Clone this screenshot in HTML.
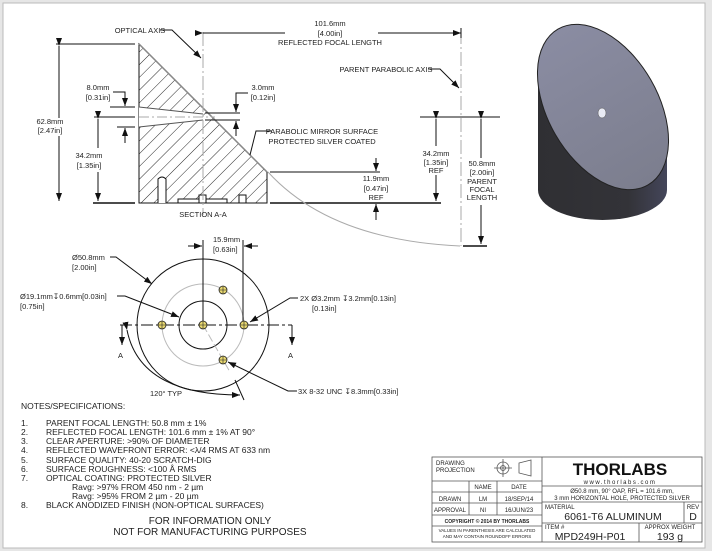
<!DOCTYPE html>
<html><head><meta charset="utf-8"><style>
html,body{margin:0;padding:0;background:#fff}
svg{display:block}
text{font-family:"Liberation Sans",sans-serif;fill:#222}
</style></head><body>
<svg width="712" height="551" viewBox="0 0 712 551" xmlns="http://www.w3.org/2000/svg">
<defs>
<pattern id="h" width="9" height="9" patternUnits="userSpaceOnUse" patternTransform="rotate(45)">
<line x1="0" y1="0" x2="0" y2="9" stroke="#111" stroke-width="0.9"/></pattern>
<marker id="a" markerWidth="8" markerHeight="6" refX="8" refY="3" orient="auto" markerUnits="userSpaceOnUse"><path d="M0,0L8,3L0,6z" fill="#111"/></marker>
<linearGradient id="body" x1="0" x2="1"><stop offset="0" stop-color="#2f2f33"/><stop offset="0.7" stop-color="#333338"/><stop offset="1" stop-color="#44465a"/></linearGradient>
<linearGradient id="face" x1="0" x2="1"><stop offset="0" stop-color="#8a8ca2"/><stop offset="1" stop-color="#7c7e8e"/></linearGradient>
</defs>
<rect x="0" y="0" width="712" height="551" fill="#e6e6e6"/>
<rect x="3" y="3" width="702" height="545" fill="#fff" stroke="#bbb"/>

<!-- Section A-A -->
<g stroke="#111" stroke-width="1" fill="none">
<path d="M139,44 L267,172 L267,203 L139,203 Z" fill="url(#h)"/>
<path d="M139,107 L203,114 L203,120 L139,127 Z" fill="#fff" stroke="none"/>
<path d="M139,107 L203,114 M139,127 L203,120" stroke="#555"/>
<path d="M139,44 L267,172" stroke="#888" stroke-width="1.5"/>
<path d="M158,203 V179 Q162,175 166,179 V203" fill="#fff"/>
<rect x="178" y="199" width="49" height="4" fill="#fff"/>
<rect x="199" y="195" width="7" height="8" fill="#fff"/>
<rect x="239" y="195" width="7" height="8" fill="#fff"/>
<line x1="93" y1="203" x2="135" y2="203" stroke-width="1.5"/>
<line x1="270" y1="203" x2="441" y2="203" stroke-width="1.5"/>
<line x1="270" y1="172" x2="380" y2="172"/>
<path d="M268,172 Q330,240 460,246" stroke="#aaa"/>
<line x1="203" y1="32" x2="203" y2="215" stroke="#aaa" stroke-dasharray="14,3,2,3"/>
<line x1="461" y1="30" x2="461" y2="246" stroke="#aaa" stroke-dasharray="14,3,2,3"/>
<line x1="139" y1="117" x2="215" y2="117" stroke="#aaa" stroke-dasharray="10,3,2,3"/>
<line x1="203" y1="33" x2="285" y2="33" marker-start="url(#a)"/>
<line x1="378" y1="33" x2="461" y2="33" marker-end="url(#a)"/>
<line x1="461" y1="28" x2="461" y2="38"/>
<path d="M160,30 H172 L201,58" marker-end="url(#a)"/>
<path d="M428,69 H440 L459,88" marker-end="url(#a)"/>
<line x1="56" y1="44" x2="135" y2="44"/>
<line x1="59" y1="46" x2="59" y2="118" marker-start="url(#a)"/>
<line x1="59" y1="136" x2="59" y2="201" marker-end="url(#a)"/>
<line x1="94" y1="117" x2="135" y2="117"/>
<line x1="98" y1="119" x2="98" y2="148" marker-start="url(#a)"/>
<line x1="98" y1="172" x2="98" y2="201" marker-end="url(#a)"/>
<path d="M113,92 H125 V106" marker-end="url(#a)"/>
<line x1="125" y1="143" x2="125" y2="128" marker-end="url(#a)"/>
<line x1="117" y1="127" x2="135" y2="127"/>
<line x1="110" y1="107" x2="135" y2="107"/>
<path d="M248,93 H236 V112" marker-end="url(#a)"/>
<line x1="236" y1="136" x2="236" y2="121" marker-end="url(#a)"/>
<line x1="205" y1="113" x2="240" y2="113"/>
<line x1="205" y1="120" x2="240" y2="120"/>
<path d="M250,155 L256,131 H272"/>
<line x1="376" y1="158" x2="376" y2="171" marker-end="url(#a)"/>
<line x1="376" y1="220" x2="376" y2="204" marker-end="url(#a)"/>
<line x1="420" y1="117" x2="500" y2="117"/>
<line x1="436" y1="119" x2="436" y2="146" marker-start="url(#a)"/>
<line x1="436" y1="175" x2="436" y2="201" marker-end="url(#a)"/>
<line x1="481" y1="119" x2="481" y2="158" marker-start="url(#a)"/>
<line x1="481" y1="205" x2="481" y2="244" marker-end="url(#a)"/>
<line x1="463" y1="246" x2="487" y2="246" stroke-width="1.5"/>
</g>
<g font-size="7.5" text-anchor="middle">
<text x="330" y="26">101.6mm</text><text x="330" y="36">[4.00in]</text><text x="330" y="45">REFLECTED FOCAL LENGTH</text>
<text x="140" y="33">OPTICAL AXIS</text>
<text x="386" y="72">PARENT PARABOLIC AXIS</text>
<text x="50" y="124">62.8mm</text><text x="50" y="133">[2.47in]</text>
<text x="89" y="158">34.2mm</text><text x="89" y="168">[1.35in]</text>
<text x="98" y="90">8.0mm</text><text x="98" y="100">[0.31in]</text>
<text x="263" y="90">3.0mm</text><text x="263" y="100">[0.12in]</text>
<text x="376" y="181">11.9mm</text><text x="376" y="191">[0.47in]</text><text x="376" y="200">REF</text>
<text x="436" y="156">34.2mm</text><text x="436" y="165">[1.35in]</text><text x="436" y="173">REF</text>
<text x="482" y="166">50.8mm</text><text x="482" y="175">[2.00in]</text><text x="482" y="184">PARENT</text><text x="482" y="192">FOCAL</text><text x="482" y="200">LENGTH</text>
<text x="203" y="217">SECTION A-A</text>
<text x="322" y="134" text-anchor="middle">PARABOLIC MIRROR SURFACE</text>
<text x="322" y="144" text-anchor="middle">PROTECTED SILVER COATED</text>
</g>

<!-- 3D view -->
<path d="M538,66 V190 A64.5,30 0 0 0 667,190 V148 Z" fill="url(#body)"/>
<ellipse cx="603" cy="107" rx="90" ry="55" transform="rotate(60 603 107)" fill="url(#face)" stroke="#222" stroke-width="1"/>
<ellipse cx="602" cy="113" rx="4" ry="5" fill="#e8eaf4" stroke="#555" stroke-width="0.5"/>

<!-- Bottom view -->
<g stroke="#111" fill="none" stroke-width="1">
<circle cx="203" cy="325" r="66"/>
<circle cx="203" cy="325" r="24"/>
<circle cx="203" cy="325" r="41" stroke="#bbb"/>
<line x1="120" y1="325" x2="292" y2="325" stroke-dasharray="12,3,3,3"/>
<line x1="203" y1="325" x2="230" y2="372" stroke="#bbb" stroke-dasharray="8,3"/>
<path d="M122,325 V345" marker-end="url(#a)"/><path d="M292,325 V345" marker-end="url(#a)"/>
<line x1="203" y1="240" x2="203" y2="325"/><line x1="243" y1="240" x2="243" y2="325"/>
<line x1="188" y1="246" x2="202" y2="246" marker-end="url(#a)"/>
<line x1="258" y1="246" x2="244" y2="246" marker-end="url(#a)"/>
<path d="M110,257 H116 L152,284" marker-end="url(#a)"/>
<path d="M117,296 H125 L179,317" marker-end="url(#a)"/>
<path d="M298,298 H290 L250,322" marker-end="url(#a)"/>
<path d="M297,391 H288 L228,362" marker-end="url(#a)"/>
<path d="M127,330 Q140,395 240,395" marker-start="url(#a)" marker-end="url(#a)"/>
<line x1="235" y1="380" x2="244" y2="400"/>
</g>
<g fill="#e8d870" stroke="#222" stroke-width="0.8">
<circle cx="162" cy="325" r="4"/><circle cx="203" cy="325" r="4"/><circle cx="244" cy="325" r="4"/>
<circle cx="223" cy="290" r="4"/><circle cx="223" cy="360" r="4"/>
</g>
<g stroke="#222" stroke-width="0.6">
<path d="M162,321v8M158,325h8M203,321v8M199,325h8M244,321v8M240,325h8M223,286v8M219,290h8M223,356v8M219,360h8"/></g>
<g font-size="7.5">
<text x="213" y="242">15.9mm</text><text x="213" y="252">[0.63in]</text>
<text x="72" y="260">Ø50.8mm</text><text x="72" y="270">[2.00in]</text>
<text x="20" y="299">Ø19.1mm↧0.6mm[0.03in]</text><text x="20" y="309">[0.75in]</text>
<text x="300" y="301">2X  Ø3.2mm ↧3.2mm[0.13in]</text><text x="312" y="311">[0.13in]</text>
<text x="298" y="394">3X 8-32 UNC ↧8.3mm[0.33in]</text>
<text x="150" y="396">120° TYP</text>
<text x="118" y="358">A</text><text x="288" y="358">A</text>
</g>

<!-- Notes -->
<g font-size="8.5">
<text x="21" y="409">NOTES/SPECIFICATIONS:</text>
<text x="21" y="426">1.</text><text x="46" y="426">PARENT FOCAL LENGTH: 50.8 mm ± 1%</text>
<text x="21" y="435">2.</text><text x="46" y="435">REFLECTED FOCAL LENGTH: 101.6 mm ± 1% AT 90°</text>
<text x="21" y="444">3.</text><text x="46" y="444">CLEAR APERTURE: &gt;90% OF DIAMETER</text>
<text x="21" y="453">4.</text><text x="46" y="453">REFLECTED WAVEFRONT ERROR: &lt;λ/4 RMS AT 633 nm</text>
<text x="21" y="463">5.</text><text x="46" y="463">SURFACE QUALITY: 40-20 SCRATCH-DIG</text>
<text x="21" y="472">6.</text><text x="46" y="472">SURFACE ROUGHNESS: &lt;100 Å RMS</text>
<text x="21" y="481">7.</text><text x="46" y="481">OPTICAL COATING: PROTECTED SILVER</text>
<text x="72" y="490">Ravg: &gt;97% FROM 450 nm - 2 µm</text>
<text x="72" y="499">Ravg: &gt;95% FROM 2 µm - 20 µm</text>
<text x="21" y="508">8.</text><text x="46" y="508">BLACK ANODIZED FINISH (NON-OPTICAL SURFACES)</text>
</g>
<g font-size="10" text-anchor="middle">
<text x="210" y="524">FOR INFORMATION ONLY</text>
<text x="210" y="535">NOT FOR MANUFACTURING PURPOSES</text>
</g>

<!-- Title block -->
<g stroke="#555" stroke-width="0.8" fill="none">
<rect x="432" y="457" width="270" height="85"/>
<line x1="542" y1="457" x2="542" y2="542"/>
<line x1="432" y1="481" x2="542" y2="481"/>
<line x1="432" y1="492" x2="542" y2="492"/>
<line x1="432" y1="503" x2="542" y2="503"/>
<line x1="432" y1="515" x2="542" y2="515"/>
<line x1="432" y1="526" x2="542" y2="526"/>
<line x1="469" y1="481" x2="469" y2="515"/>
<line x1="497" y1="481" x2="497" y2="515"/>
<line x1="542" y1="486" x2="702" y2="486"/>
<line x1="542" y1="502" x2="702" y2="502"/>
<line x1="542" y1="523" x2="702" y2="523"/>
<line x1="684" y1="502" x2="684" y2="523"/>
<line x1="639" y1="523" x2="639" y2="542"/>
<circle cx="503" cy="468" r="6"/><circle cx="503" cy="468" r="2.5"/>
<path d="M494,468h18M503,459v18"/>
<path d="M519,463 L531,460 V476 L519,473 Z"/>
</g>
<g font-size="6">
<text x="436" y="465">DRAWING</text><text x="436" y="472">PROJECTION</text>
<text x="483" y="489" text-anchor="middle">NAME</text><text x="519" y="489" text-anchor="middle">DATE</text>
<text x="450" y="501" text-anchor="middle">DRAWN</text><text x="483" y="501" text-anchor="middle">LM</text><text x="519" y="501" text-anchor="middle">18/SEP/14</text>
<text x="450" y="512" text-anchor="middle">APPROVAL</text><text x="483" y="512" text-anchor="middle">NI</text><text x="519" y="512" text-anchor="middle">16/JUN/23</text>
<text x="487" y="523" text-anchor="middle" font-size="5" font-weight="bold">COPYRIGHT © 2014 BY THORLABS</text>
<text x="487" y="532" text-anchor="middle" font-size="4.5">VALUES IN PARENTHESIS ARE CALCULATED</text>
<text x="487" y="538" text-anchor="middle" font-size="4.5">AND MAY CONTAIN ROUNDOFF ERRORS</text>
<text x="622" y="493" text-anchor="middle">Ø50.8 mm, 90° OAP, RFL = 101.6 mm,</text>
<text x="622" y="500" text-anchor="middle">3 mm HORIZONTAL HOLE, PROTECTED SILVER</text>
<text x="545" y="509">MATERIAL</text><text x="693" y="509" text-anchor="middle">REV</text>
<text x="545" y="529">ITEM #</text><text x="670" y="529" text-anchor="middle">APPROX WEIGHT</text>
</g>
<text x="620" y="475" text-anchor="middle" font-size="17" font-weight="bold" style="fill:#111">THORLABS</text>
<text x="620" y="484" text-anchor="middle" font-size="6" letter-spacing="1.5">www.thorlabs.com</text>
<text x="613" y="520" text-anchor="middle" font-size="10.5">6061-T6 ALUMINUM</text>
<text x="693" y="520" text-anchor="middle" font-size="10.5">D</text>
<text x="590" y="540" text-anchor="middle" font-size="10.5">MPD249H-P01</text>
<text x="670" y="540" text-anchor="middle" font-size="10.5">193 g</text>
</svg>
</body></html>
